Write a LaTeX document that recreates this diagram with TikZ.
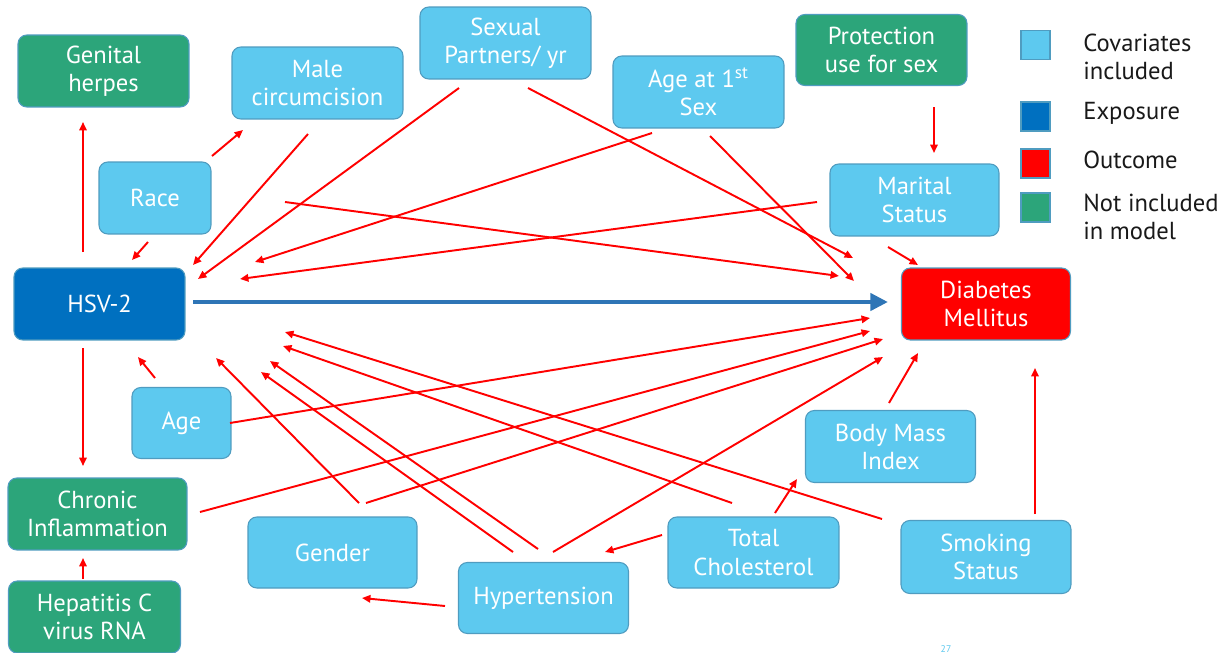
\documentclass[tikz,border=0pt]{standalone}
\usepackage{fontspec}
\setmainfont{PT Sans}
\usetikzlibrary{calc,arrows.meta}

\definecolor{covar fill}{HTML}{5DC9EF}
\definecolor{box edge}{HTML}{4F9CC0}
\definecolor{exposure fill}{HTML}{0070C0}
\definecolor{outcome fill}{HTML}{FF0000}
\definecolor{excluded fill}{HTML}{2CA57A}
\definecolor{main arrow}{HTML}{2E75B6}
\tikzset{box/.style={rectangle, rounded corners=5pt, draw=box edge, line width=0.6pt,
        text=white, align=center, inner sep=0pt, font=\fontsize{14}{16}\selectfont,
        minimum width=3.42cm, minimum height=1.44cm},
    covar/.style={box, fill=covar fill},
    excluded/.style={box, fill=excluded fill},
    keybox/.style={rectangle, draw=box edge, line width=0.6pt, minimum size=0.58cm, inner sep=0pt},
    keytext/.style={anchor=west, align=left, inner sep=0pt, text=black!90,
        font=\fontsize{14}{16}\selectfont},
    effect/.style={-{Triangle[length=4.8pt,width=4.2pt]}, draw=red, line width=1.1pt},
    main effect/.style={-{Triangle[length=10pt,width=9.6pt]}, draw=main arrow, line width=2.8pt}}

\begin{document}
\begin{tikzpicture}[x=0.02cm, y=-0.02cm]
        \fill[white] (0,0) rectangle (1232,653);
        \useasboundingbox (0,0) rectangle (1232,653);

        % Exposure and outcome
        \node[box, fill=exposure fill] (hsv) at (99.5,304) {HSV-2};
        \node[box, fill=outcome fill, minimum width=3.38cm] (dm) at (986,304) {Diabetes\\Mellitus};

        % Covariates
        \node[covar] (malecirc) at (317.5,83) {Male\\circumcision};
        \node[covar] (partners) at (505.5,43) {Sexual\\Partners/ yr};
        \node[covar] (firstsex) at (698.5,92) {Age at 1\textsuperscript{st}\\Sex};
        \node[covar, minimum width=2.24cm] (race) at (155,198) {Race};
        \node[covar, minimum width=3.38cm] (marital) at (914.5,200) {Marital\\Status};
        \node[covar, minimum width=1.98cm, minimum height=1.42cm] (age) at (181.5,423) {Age};
        \node[covar, minimum width=3.4cm] (bmi) at (890.5,446.5) {Body Mass\\Index};
        \node[covar, minimum width=3.38cm, minimum height=1.42cm] (gender) at (332.5,552.5) {Gender};
        \node[covar, minimum height=1.42cm] (chol) at (753.5,552.5) {Total\\Cholesterol};
        \node[covar, minimum width=3.4cm, minimum height=1.46cm] (smoking) at (986,557) {Smoking\\Status};
        \node[covar, minimum width=3.4cm, minimum height=1.42cm] (hyper) at (543.5,598) {Hypertension};

        % Not included in model
        \node[excluded] (herpes) at (103.5,71) {Genital\\herpes};
        \node[excluded, minimum height=1.42cm] (protection) at (881.5,50) {Protection\\use for sex};
        \node[excluded, minimum width=3.58cm] (chronic) at (97.5,514) {Chronic\\Inflammation};
        \node[excluded, minimum width=3.44cm] (hepc) at (94.5,617) {Hepatitis C\\virus RNA};

        % Legend
        \node[keybox, fill=covar fill] (key covar) at (1035.5,45) {};
        \node[keybox, fill=exposure fill] (key exposure) at (1035.5,116.5) {};
        \node[keybox, fill=outcome fill] (key outcome) at (1035.5,163.5) {};
        \node[keybox, fill=excluded fill] (key excluded) at (1035.5,207.5) {};
        \node[keytext] (txt covar) at (1083,57) {Covariates\\included};
        \node[keytext] (txt exposure) at (1083,113) {Exposure};
        \node[keytext] (txt outcome) at (1083,160) {Outcome};
        \node[keytext] (txt excluded) at (1083,217) {Not included\\in model};
        \node[anchor=north, inner sep=0pt, text=covar fill, font=\fontsize{5.5}{6}\selectfont] (slide no) at (946,645) {27};

        % Main effect
        \draw[main effect] ($(hsv.center)+(93.5,-2)$) -- ($(dm.center)+(-98,-2)$);

        % Effects around HSV-2
        \draw[effect] ($(hsv.center)+(-16.5,-52)$) -- ($(herpes.center)+(-20.5,51)$);
        \draw[effect] ($(hsv.center)+(-16.5,44)$) -- ($(chronic.center)+(-14.5,-48)$);
        \draw[effect] ($(hepc.center)+(-11.5,-38)$) -- ($(chronic.center)+(-14.5,44)$);
        \draw[effect] ($(race.center)+(57,-42)$) -- ($(malecirc.center)+(-74.5,47)$);
        \draw[effect] ($(race.center)+(-7,44)$) -- ($(hsv.center)+(32.5,-44)$);
        \draw[effect] ($(malecirc.center)+(-9.5,51)$) -- ($(hsv.center)+(93.5,-39)$);
        \draw[effect] ($(partners.center)+(-46.5,45)$) -- ($(hsv.center)+(98.5,-25)$);
        \draw[effect] ($(firstsex.center)+(-46.5,41)$) -- ($(hsv.center)+(155.5,-42)$);
        \draw[effect] ($(marital.center)+(-97.5,2)$) -- ($(hsv.center)+(140.5,-25)$);
        \draw[effect] ($(age.center)+(-26.5,-45)$) -- ($(hsv.center)+(38.5,53)$);
        \draw[effect] ($(gender.center)+(26.5,-49.5)$) -- ($(hsv.center)+(116.5,54)$);
        \draw[effect] ($(hyper.center)+(-5.5,-49)$) -- ($(hsv.center)+(170.5,57)$);
        \draw[effect] ($(hyper.center)+(-30.5,-46)$) -- ($(hsv.center)+(161.5,68)$);
        \draw[effect] ($(chol.center)+(-21.5,-49.5)$) -- ($(hsv.center)+(183.5,42)$);
        \draw[effect] ($(smoking.center)+(-104,-38)$) -- ($(hsv.center)+(185.5,28)$);

        % Effects on diabetes
        \draw[effect] ($(partners.center)+(22.5,45)$) -- ($(dm.center)+(-133,-46)$);
        \draw[effect] ($(firstsex.center)+(11.5,44)$) -- ($(dm.center)+(-132,-23)$);
        \draw[effect] ($(race.center)+(130,4)$) -- ($(dm.center)+(-147,-28)$);
        \draw[effect] ($(marital.center)+(-26.5,47)$) -- ($(dm.center)+(-68,-39)$);
        \draw[effect] ($(protection.center)+(52.5,57)$) -- ($(marital.center)+(19.5,-47)$);
        \draw[effect] ($(age.center)+(48.5,0)$) -- ($(dm.center)+(-116,14)$);
        \draw[effect] ($(chronic.center)+(102.5,-2)$) -- ($(dm.center)+(-116,27)$);
        \draw[effect] ($(gender.center)+(33.5,-49.5)$) -- ($(dm.center)+(-103,35)$);
        \draw[effect] ($(hyper.center)+(9.5,-46)$) -- ($(dm.center)+(-103,53)$);
        \draw[effect] ($(bmi.center)+(-1.5,-43.5)$) -- ($(dm.center)+(-68,49)$);
        \draw[effect] ($(smoking.center)+(49,-43)$) -- ($(dm.center)+(49,64)$);

        % Effects among covariates
        \draw[effect] ($(chol.center)+(-91.5,-17.5)$) -- ($(hyper.center)+(61.5,-46)$);
        \draw[effect] ($(chol.center)+(21.5,-39.5)$) -- ($(bmi.center)+(-93.5,32.5)$);
        \draw[effect] ($(hyper.center)+(-98.5,8)$) -- ($(gender.center)+(29.5,45.5)$);
    \end{tikzpicture}
\end{document}
